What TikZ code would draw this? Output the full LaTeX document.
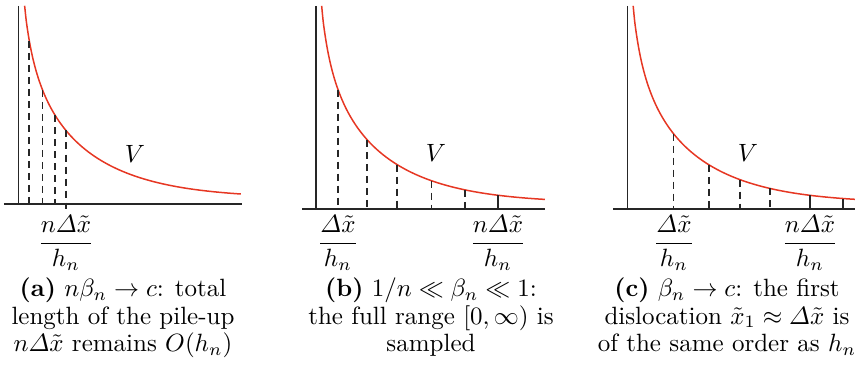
\documentclass[tikz,border=0pt]{standalone}
\usepackage{amsmath}
\definecolor{curvered}{RGB}{230,55,35}
\begin{document}
\begin{tikzpicture}[x=0.4pt,y=-0.4pt,
  declare function={V(\t)=\t*cosh(\t)/sinh(\t)-ln(2*sinh(\t));},
  axis/.style={line width=0.7pt, black!85},
  curve/.style={line width=0.6pt, curvered},
  drop/.style={line width=0.65pt, black!85, dash pattern=on 2.8pt off 2pt},
  tickline/.style={line width=0.65pt, black!85},
  lab/.style={font=\fontsize{10}{11}\selectfont, inner sep=0pt, anchor=base},
]
\useasboundingbox (0,0) rectangle (855,366);

% ---------- panel (a)
\draw[axis] (18.5,6) -- (18.5,204);
\draw[axis] (4,204) -- (242,204);
\draw[curve] plot[domain=0.0614:2.225, samples=150, smooth] ({18.5+100*\x},{198-62*V(\x)});
\foreach \p in {29.3,42.5,55}
  \draw[drop] (\p,{198-62*V((\p-18.5)/100)}) -- (\p,204);
\draw[drop] (66,{198-62*V((66-18.5)/100)}) -- (66,209);
\node[lab] (va) at (135,163) {$V$};
\node[lab] (fa) at (66,249.3) {$\dfrac{n\varDelta\tilde{x}}{h_n}$};
\node[lab] (ca) at (123,296.7) {\begin{tabular}[t]{@{}c@{}}\textbf{(a)} $n\beta_n\to c$: total\\ length of the pile-up\\ $n\varDelta\tilde{x}$ remains $O(h_n)$\end{tabular}};

% ---------- panel (b)
\draw[axis] (316,6) -- (316,209);
\draw[axis] (302,209) -- (545,209);
\draw[curve] plot[domain=0.0567:2.29, samples=150, smooth] ({316+100*\x},{203-62*V(\x)});
\foreach \p in {338,367.3,397,431.5,465}
  \draw[drop] (\p,{203-62*V((\p-316)/100)}) -- (\p,209);
\draw[tickline] (498,{203-62*V((498-316)/100)}) -- (498,209);
\node[lab] (vb) at (436,162) {$V$};
\node[lab] (fb1) at (338,249.3) {$\dfrac{\varDelta\tilde{x}}{h_n}$};
\node[lab] (fb2) at (498,249.3) {$\dfrac{n\varDelta\tilde{x}}{h_n}$};
\node[lab] (cb) at (431,296.7) {\begin{tabular}[t]{@{}c@{}}\textbf{(b)} $1/n\ll\beta_n\ll 1$:\\ the full range $[0,\infty)$ is\\ sampled\end{tabular}};

% ---------- panel (c)
\draw[axis] (627.5,6) -- (627.5,209);
\draw[axis] (613,209) -- (855,209);
\draw[curve] plot[domain=0.0567:2.275, samples=150, smooth] ({627.5+100*\x},{203-62*V(\x)});
\foreach \p in {673.5,709,740,770}
  \draw[drop] (\p,{203-62*V((\p-627.5)/100)}) -- (\p,209);
\foreach \p in {810,843}
  \draw[tickline] (\p,{203-62*V((\p-627.5)/100)}) -- (\p,209);
\node[lab] (vc) at (748,162) {$V$};
\node[lab] (fc1) at (674,249.3) {$\dfrac{\varDelta\tilde{x}}{h_n}$};
\node[lab] (fc2) at (810,249.3) {$\dfrac{n\varDelta\tilde{x}}{h_n}$};
\node[lab] (cc) at (727,296.7) {\begin{tabular}[t]{@{}c@{}}\textbf{(c)} $\beta_n\to c$: the first\\ dislocation $\tilde{x}_1\approx\varDelta\tilde{x}$ is\\ of the same order as $h_n$\end{tabular}};
\end{tikzpicture}
\end{document}
